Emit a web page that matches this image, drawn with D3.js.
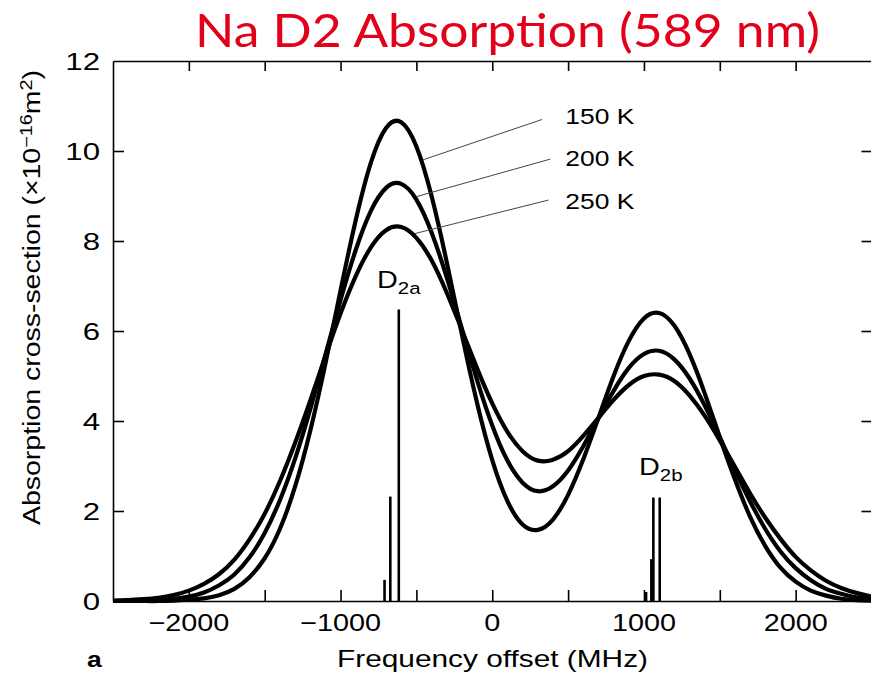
<!DOCTYPE html>
<html>
<head>
<meta charset="utf-8">
<script src="https://cdn.jsdelivr.net/npm/d3@7"></script>
<style>
  html, body { margin: 0; padding: 0; background: #fff; }
  svg { display: block; }
</style>
</head>
<body>
<svg id="chart" width="871" height="673"></svg>
<script>
// Frequency grid (MHz) on which the Doppler-broadened profiles are tabulated
const freqMHz = [-2500,-2400,-2300,-2200,-2100,-2000,-1900,-1800,-1700,-1600,
  -1500,-1400,-1300,-1200,-1100,-1000,-900,-800,-700,-600,
  -500,-400,-300,-200,-100,0,100,200,300,400,
  500,600,700,800,900,1000,1100,1200,1300,1400,
  1500,1600,1700,1800,1900,2000,2100,2200,2300,2400,2500];

// Absorption cross-section (x10^-16 m^2) at each temperature
const sigma150K = [0.00,0.00,0.00,0.00,0.01,0.03,0.06,0.13,0.27,0.53,
  0.95,1.60,2.54,3.78,5.27,6.90,8.46,9.74,10.51,10.64,
  10.10,9.00,7.53,5.92,4.40,3.13,2.22,1.70,1.58,1.81,
  2.36,3.15,4.07,5.00,5.78,6.28,6.40,6.12,5.49,4.62,
  3.64,2.70,1.87,1.22,0.74,0.43,0.23,0.12,0.05,0.02,0.01];
const sigma200K = [0.00,0.01,0.01,0.02,0.05,0.10,0.19,0.35,0.59,0.97,
  1.51,2.24,3.16,4.26,5.47,6.69,7.80,8.67,9.18,9.27,
  8.92,8.19,7.19,6.05,4.91,3.90,3.12,2.63,2.44,2.55,
  2.90,3.44,4.06,4.67,5.18,5.49,5.56,5.37,4.95,4.35,
  3.64,2.90,2.21,1.60,1.10,0.73,0.46,0.27,0.16,0.08,0.04];
const sigma250K = [0.01,0.02,0.04,0.07,0.13,0.23,0.38,0.60,0.92,1.37,
  1.94,2.66,3.51,4.45,5.44,6.39,7.22,7.86,8.24,8.31,
  8.07,7.57,6.85,6.02,5.17,4.39,3.76,3.33,3.12,3.14,
  3.33,3.67,4.07,4.47,4.80,5.00,5.03,4.89,4.57,4.12,
  3.57,2.98,2.39,1.85,1.38,0.98,0.68,0.45,0.29,0.18,0.10];
const tempLabels = ["150 K", "200 K", "250 K"];

// Hyperfine components (stick spectrum)
const d2aFreq = [-710, -672, -616];
const d2aStrength = [0.47, 2.32, 6.48];
const d2bFreq = [1014, 1049, 1062, 1104];
const d2bStrength = [0.20, 0.93, 2.30, 2.30];

// Axis ticks
const xMajorTicks = [-2000, -1000, 0, 1000, 2000];
const xMinorTicks = [-2000, -1500, -1000, -500, 0, 500, 1000, 1500, 2000];
const yTicks = [0, 2, 4, 6, 8, 10, 12];

const svg = d3.select("#chart");
const W = 871, H = 673;
svg.append("rect").attr("width", W).attr("height", H).attr("fill", "#fff");

const x = d3.scaleLinear().domain([-2500, 2500]).range([113, 871.5]);
const y = d3.scaleLinear().domain([0, 12]).range([601, 61]);

const FONT = "'Liberation Sans', Arial, Helvetica, sans-serif";
const SX = 1.2; // horizontal stretch of the Helvetica-style lettering

// ---- Title ----
svg.append("text")
  .attr("x", 195).attr("y", 47)
  .attr("textLength", 625).attr("lengthAdjust", "spacingAndGlyphs")
  .attr("font-family", "Lato, 'Open Sans', sans-serif")
  .attr("font-size", 46)
  .attr("fill", "#e2001a")
  .text("Na D2 Absorption (589 nm)");

// ---- Frame and axes (ticks point inward) ----
const axisStyle = g => {
  g.selectAll("path.domain").attr("stroke", "#000").attr("stroke-width", 1.6);
  g.selectAll(".tick line").attr("stroke", "#000").attr("stroke-width", 1.6);
  g.selectAll(".tick text").remove();
};
svg.append("g").attr("transform", `translate(0,${y(0)})`)
  .call(d3.axisBottom(x).tickValues(xMinorTicks).tickSizeInner(-11).tickSizeOuter(0))
  .call(axisStyle);
svg.append("g").attr("transform", `translate(0,${y(12)})`)
  .call(d3.axisTop(x).tickValues(xMinorTicks).tickSizeInner(-10).tickSizeOuter(0))
  .call(axisStyle);
svg.append("g").attr("transform", `translate(${x(-2500)},0)`)
  .call(d3.axisLeft(y).tickValues(yTicks.slice(1, -1)).tickSizeInner(-11).tickSizeOuter(0))
  .call(axisStyle);
svg.append("g").attr("transform", `translate(${x(2500)},0)`)
  .call(d3.axisRight(y).tickValues(yTicks.slice(1, -1)).tickSizeInner(-10).tickSizeOuter(0))
  .call(axisStyle);

const fmt = d3.format("d");
// x tick labels
svg.append("g").selectAll("text").data(xMajorTicks).join("text")
  .attr("transform", d => `translate(${x(d)},631) scale(${SX},1)`)
  .attr("text-anchor", "middle")
  .attr("font-family", FONT).attr("font-size", 24)
  .text(d => fmt(d));
// y tick labels
svg.append("g").selectAll("text").data(yTicks).join("text")
  .attr("transform", d => `translate(100,${y(d) + 8.5}) scale(1.3,1)`)
  .attr("text-anchor", "end")
  .attr("font-family", FONT).attr("font-size", 24)
  .text(d => fmt(d));

// Axis titles
svg.append("text")
  .attr("x", 337).attr("y", 667)
  .attr("textLength", 311).attr("lengthAdjust", "spacingAndGlyphs")
  .attr("font-family", FONT).attr("font-size", 24)
  .text("Frequency offset (MHz)");

const yTitle = svg.append("text")
  .attr("transform", "translate(40,525) rotate(-90)")
  .attr("textLength", 455).attr("lengthAdjust", "spacingAndGlyphs")
  .attr("font-family", FONT).attr("font-size", 23);
yTitle.append("tspan").text("Absorption cross-section (\u00d710");
yTitle.append("tspan").attr("dy", -8).attr("font-size", 16).text("\u221216");
yTitle.append("tspan").attr("dy", 8).text("m");
yTitle.append("tspan").attr("dy", -8).attr("font-size", 16).text("2");
yTitle.append("tspan").attr("dy", 8).text(")");

svg.append("text")
  .attr("transform", `translate(87,667) scale(${SX},1)`)
  .attr("font-family", FONT).attr("font-size", 22).attr("font-weight", "bold")
  .text("a");

// ---- Stick spectrum ----
const sticks = d2aFreq.map((f, i) => ({ f, s: d2aStrength[i] }))
  .concat(d2bFreq.map((f, i) => ({ f, s: d2bStrength[i] })));
svg.append("g").selectAll("line").data(sticks).join("line")
  .attr("x1", d => x(d.f)).attr("x2", d => x(d.f))
  .attr("y1", y(0)).attr("y2", d => y(d.s))
  .attr("stroke", "#000").attr("stroke-width", 2.6);

const subLabel = (px, py, sub) => {
  const t = svg.append("text")
    .attr("transform", `translate(${px},${py}) scale(${SX},1)`)
    .attr("font-family", FONT).attr("font-size", 24);
  t.append("tspan").text("D");
  t.append("tspan").attr("dy", 6).attr("font-size", 17).text(sub);
};
subLabel(377, 288, "2a");
subLabel(639, 475, "2b");

// ---- Cross-section profiles ----
const series = [sigma150K, sigma200K, sigma250K];
const line = d3.line()
  .x((d, i) => x(freqMHz[i]))
  .y(d => y(d))
  .curve(d3.curveNatural);
svg.append("g").selectAll("path").data(series).join("path")
  .attr("d", line)
  .attr("fill", "none")
  .attr("stroke", "#000")
  .attr("stroke-width", 4.2)
  .attr("stroke-linejoin", "round");

// ---- Temperature call-outs ----
const valueAt = (vals, f) => {
  const i = d3.bisectRight(freqMHz, f) - 1;
  const t = (f - freqMHz[i]) / (freqMHz[i + 1] - freqMHz[i]);
  return vals[i] + t * (vals[i + 1] - vals[i]);
};
const callouts = [
  { anchor: -470, end: [328, 10.70], label: [482, 10.78] },
  { anchor: -510, end: [383, 9.82], label: [482, 9.84] },
  { anchor: -525, end: [371, 8.91], label: [482, 8.89] }
];
callouts.forEach((c, i) => {
  const v = valueAt(series[i], c.anchor);
  svg.append("line")
    .attr("x1", x(c.anchor) + 2).attr("y1", y(v) - 1.5)
    .attr("x2", x(c.end[0])).attr("y2", y(c.end[1]))
    .attr("stroke", "#444").attr("stroke-width", 1);
  svg.append("text")
    .attr("transform", `translate(${x(c.label[0])},${y(c.label[1]) + 8}) scale(${SX},1)`)
    .attr("font-family", FONT).attr("font-size", 22)
    .text(tempLabels[i]);
});
</script>
</body>
</html>
